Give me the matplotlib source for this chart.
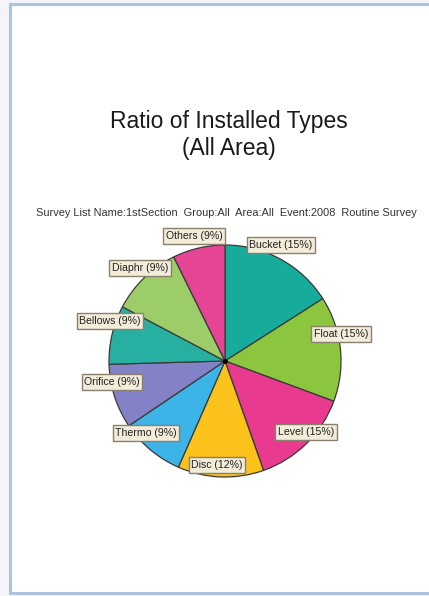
import matplotlib.pyplot as plt
from matplotlib.patches import Rectangle

# data (clockwise from 12 o'clock)
types = ['Bucket', 'Float', 'Level', 'Disc', 'Thermo', 'Orifice', 'Bellows', 'Diaphr', 'Others']
shares = [16, 14.7, 14, 12, 9, 9, 8.2, 10, 7.3]
pct_text = ['15%', '15%', '15%', '12%', '9%', '9%', '9%', '9%', '9%']
colors = ['#17ab9c', '#8cc63e', '#e83a8e', '#fbc21c', '#3cb4e8',
          '#8482c6', '#27b0a2', '#9ccd68', '#e64596']

title = 'Ratio of Installed Types\n(All Area)'
subtitle = 'Survey List Name:1stSection  Group:All  Area:All  Event:2008  Routine Survey'

W, H = 429, 596
# label box centres in pixels (x, y from top)
label_pos = [(281, 245), (341, 334), (306, 432), (217, 465), (146, 433),
             (112, 382), (110, 321), (140, 268), (194, 236)]

plt.rcParams['font.family'] = ['Liberation Sans', 'DejaVu Sans']

fig = plt.figure(figsize=(W / 100, H / 100), dpi=100)
fig.patch.set_facecolor('#f3f5f9')

# page frame (behind everything)
fig.patches.append(Rectangle((10 / W, 3 / H), 1.0, (H - 7) / H, transform=fig.transFigure,
                             facecolor='white', edgecolor='#aec3df', linewidth=2.2,
                             zorder=-10))

fig.text(229 / W, 1 - 135 / H, title, ha='center', va='center', fontsize=16.5,
         color='#1a1a1a', linespacing=1.25)
fig.text(226 / W, 1 - 213 / H, subtitle, ha='center', va='center', fontsize=7.9,
         color='#333333')

# pie axes
cx, cy, r = 225, 361, 116
ax = fig.add_axes([(cx - r) / W, (H - cy - r) / H, 2 * r / W, 2 * r / H])
ax.pie(shares, colors=colors, startangle=90, counterclock=False,
       wedgeprops=dict(edgecolor='#3a3a3a', linewidth=0.9))
ax.set_xlim(-1, 1)
ax.set_ylim(-1, 1)
ax.plot(0, 0, 'o', color='black', markersize=2.5)
ax.axis('off')

for name, pct, (px, py) in zip(types, pct_text, label_pos):
    fig.text(px / W, 1 - py / H, f'{name} ({pct})', ha='center', va='center',
             fontsize=7.6, color='#222222', zorder=5,
             bbox=dict(boxstyle='square,pad=0.25', facecolor='#f2ecd9',
                       edgecolor='#8a8070', linewidth=1.0))

fig.savefig('out.png', dpi=100)
